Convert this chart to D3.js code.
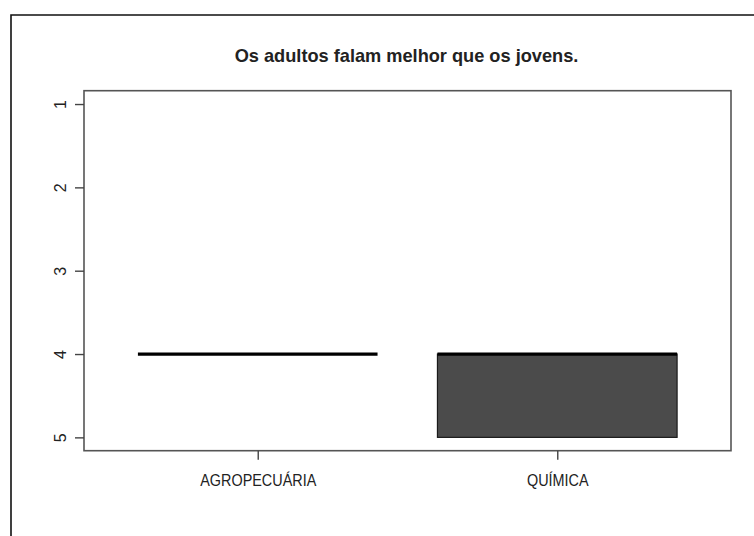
<!DOCTYPE html>
<html>
<head>
<meta charset="utf-8">
<script src="https://d3js.org/d3.v7.min.js"></script>
<style>
  html, body { margin: 0; padding: 0; background: #fff; }
  svg { display: block; }
  text { font-family: "Liberation Sans", Arial, sans-serif; fill: #222; }
</style>
</head>
<body>
<div id="chart"></div>
<script>
// dados do boxplot (escala 1-5, eixo invertido)
const categories = ["AGROPECUÁRIA", "QUÍMICA"];
const lowerWhisker = [4, 4];
const q1 = [4, 4];
const medians = [4, 4];
const q3 = [4, 5];
const upperWhisker = [4, 5];
const yTicks = [1, 2, 3, 4, 5];
const title = "Os adultos falam melhor que os jovens.";

const width = 754, height = 536;
const plot = { left: 84, right: 731, top: 90.7, bottom: 450.7 };
const squeeze = 0.9; // rótulos do eixo x um pouco comprimidos

const svg = d3.select("#chart").append("svg")
    .attr("width", width)
    .attr("height", height);

// moldura externa (só topo e esquerda visíveis)
svg.append("path")
    .attr("d", `M11,${height} L11,15 L${width},15`)
    .attr("fill", "none")
    .attr("stroke", "#111")
    .attr("stroke-width", 1.6);

// escalas no estilo do R: xlim 0.5..2.5 com 4% de folga
const x = d3.scaleLinear()
    .domain([0.42, 2.58])
    .range([plot.left, plot.right]);

const y = d3.scaleLinear()
    .domain([1 - 0.16, 5 + 0.16])
    .range([plot.top, plot.bottom]);

const boxW = 0.8;

const rows = categories.map((c, i) => ({
    name: c, pos: i + 1,
    lo: lowerWhisker[i], q1: q1[i], med: medians[i], q3: q3[i], hi: upperWhisker[i]
}));

// caixas
const g = svg.append("g");
rows.forEach(d => {
    if (d.q3 > d.q1) {
        g.append("rect")
            .attr("x", x(d.pos - boxW / 2))
            .attr("y", y(d.q1))
            .attr("width", x(d.pos + boxW / 2) - x(d.pos - boxW / 2))
            .attr("height", y(d.q3) - y(d.q1))
            .attr("fill", "#4b4b4b")
            .attr("stroke", "#1a1a1a")
            .attr("stroke-width", 1.2);
    }
    // bigodes (só se passarem da caixa)
    if (d.hi > d.q3) {
        g.append("line")
            .attr("x1", x(d.pos)).attr("x2", x(d.pos))
            .attr("y1", y(d.q3)).attr("y2", y(d.hi))
            .attr("stroke", "#111").attr("stroke-dasharray", "4,3");
    }
    if (d.lo < d.q1) {
        g.append("line")
            .attr("x1", x(d.pos)).attr("x2", x(d.pos))
            .attr("y1", y(d.lo)).attr("y2", y(d.q1))
            .attr("stroke", "#111").attr("stroke-dasharray", "4,3");
    }
    // mediana
    g.append("line")
        .attr("x1", x(d.pos - boxW / 2))
        .attr("x2", x(d.pos + boxW / 2))
        .attr("y1", y(d.med))
        .attr("y2", y(d.med))
        .attr("stroke", "#000")
        .attr("stroke-width", 3.2);
});

// caixa do gráfico
svg.append("rect")
    .attr("x", plot.left)
    .attr("y", plot.top)
    .attr("width", plot.right - plot.left)
    .attr("height", plot.bottom - plot.top)
    .attr("fill", "none")
    .attr("stroke", "#555")
    .attr("stroke-width", 1.6);

// eixo y
const yAxis = svg.append("g")
    .attr("transform", `translate(${plot.left},0)`)
    .call(d3.axisLeft(y).tickValues(yTicks).tickSize(9).tickFormat(d3.format("d")));
yAxis.select(".domain").remove();
yAxis.selectAll(".tick line").attr("stroke", "#444").attr("stroke-width", 1.4);
yAxis.selectAll(".tick text")
    .attr("x", null).attr("dy", null)
    .attr("text-anchor", "middle")
    .attr("transform", "translate(-18,0) rotate(-90)")
    .style("font-size", "16px")
    .attr("fill", "#222");

// eixo x
const xAxis = svg.append("g")
    .attr("transform", `translate(0,${plot.bottom})`)
    .call(d3.axisBottom(x).tickValues(rows.map(d => d.pos)).tickSize(9)
        .tickFormat((d, i) => categories[i]));
xAxis.select(".domain").remove();
xAxis.selectAll(".tick line").attr("stroke", "#444").attr("stroke-width", 1.4);
xAxis.selectAll(".tick text")
    .attr("y", null).attr("dy", null)
    .attr("transform", `translate(0,35.5) scale(${squeeze},1)`)
    .style("font-size", "16px")
    .attr("fill", "#222");

// título
svg.append("text")
    .attr("transform", `translate(${(plot.left + plot.right) / 2 - 1},61.5)`)
    .attr("text-anchor", "middle")
    .style("font-size", "18.2px")
    .style("font-weight", "bold")
    .attr("fill", "#111")
    .text(title);
</script>
</body>
</html>
